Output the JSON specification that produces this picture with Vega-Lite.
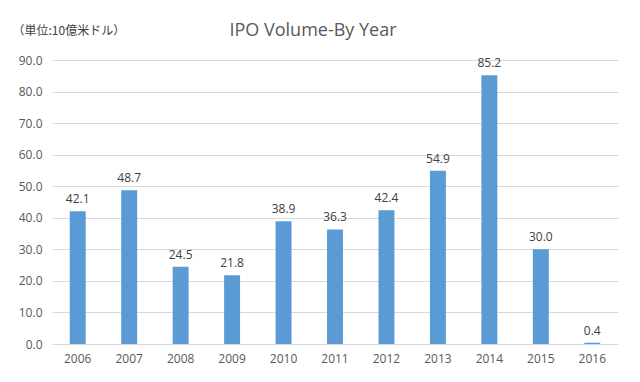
{
  "$schema": "https://vega.github.io/schema/vega-lite/v6.json",
  "autosize": "none",
  "width": 566,
  "height": 284,
  "padding": {"left": 52, "top": 60, "right": 22, "bottom": 38},
  "background": "white",
  "title": {
    "text": "IPO Volume-By Year",
    "anchor": "middle",
    "dx": -22,
    "offset": -16,
    "fontSize": 18,
    "font": "Open Sans",
    "fontWeight": "normal",
    "color": "#595959"
  },
  "data": {
    "values": [
      {"year": "2006", "value": 42.1},
      {"year": "2007", "value": 48.7},
      {"year": "2008", "value": 24.5},
      {"year": "2009", "value": 21.8},
      {"year": "2010", "value": 38.9},
      {"year": "2011", "value": 36.3},
      {"year": "2012", "value": 42.4},
      {"year": "2013", "value": 54.9},
      {"year": "2014", "value": 85.2},
      {"year": "2015", "value": 30.0},
      {"year": "2016", "value": 0.4}
    ]
  },
  "encoding": {
    "x": {
      "field": "year",
      "type": "nominal",
      "scale": {"paddingInner": 0.69, "paddingOuter": 0.345},
      "axis": {
        "title": null,
        "labelAngle": 0,
        "labelFontSize": 12,
        "labelFont": "Open Sans",
        "labelColor": "#595959",
        "labelPadding": 9,
        "ticks": false,
        "domainColor": "#d9d9d9",
        "grid": false
      }
    },
    "y": {
      "field": "value",
      "type": "quantitative",
      "scale": {"domain": [0, 90]},
      "axis": {
        "title": "（単位:10億米ドル）",
        "titleAngle": 0,
        "titleAlign": "left",
        "titleBaseline": "middle",
        "titleX": -40,
        "titleY": -30,
        "titleFont": "Noto Sans CJK JP",
        "titleFontSize": 12,
        "titleFontWeight": "normal",
        "titleColor": "#404040",
        "values": [0, 10, 20, 30, 40, 50, 60, 70, 80, 90],
        "format": ".1f",
        "labelFontSize": 12,
        "labelFont": "Open Sans",
        "labelColor": "#595959",
        "labelPadding": 10,
        "ticks": false,
        "domain": false,
        "gridColor": "#d9d9d9"
      }
    }
  },
  "layer": [
    {"mark": {"type": "bar", "color": "#5B9BD5"}},
    {
      "mark": {"type": "text", "dy": -12, "fontSize": 12, "font": "Open Sans", "color": "#404040"},
      "encoding": {"text": {"field": "value", "type": "quantitative", "format": ".1f"}}
    }
  ],
  "config": {"view": {"stroke": null}}
}
